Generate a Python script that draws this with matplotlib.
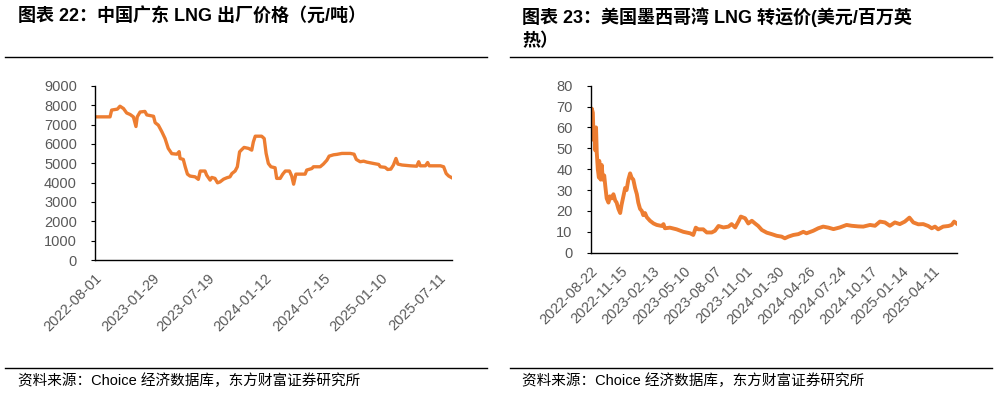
import numpy as np
import pandas as pd
import matplotlib
matplotlib.use("Agg")
import matplotlib.pyplot as plt

plt.rcParams['font.family'] = ['Liberation Sans', 'Noto Sans CJK SC', 'DejaVu Sans']

# 中国广东 LNG 出厂价格 (元/吨)
gd_dates = ["2022-08-01", "2022-09-17", "2022-09-22", "2022-10-10", "2022-10-18", "2022-10-29",
            "2022-11-08", "2022-11-19", "2022-11-29", "2022-12-07", "2022-12-11", "2022-12-20",
            "2023-01-04", "2023-01-10", "2023-01-31", "2023-02-05", "2023-02-15", "2023-02-26",
            "2023-03-08", "2023-03-18", "2023-03-29", "2023-04-14", "2023-04-21", "2023-04-24",
            "2023-05-04", "2023-05-10", "2023-05-17", "2023-05-25", "2023-06-10", "2023-06-20",
            "2023-06-26", "2023-07-11", "2023-07-16", "2023-07-27", "2023-08-01", "2023-08-11",
            "2023-08-19", "2023-08-27", "2023-09-07", "2023-09-17", "2023-09-27", "2023-10-03",
            "2023-10-13", "2023-10-20", "2023-10-27", "2023-11-03", "2023-11-10", "2023-11-24",
            "2023-12-04", "2023-12-09", "2023-12-15", "2024-01-04", "2024-01-12", "2024-01-18",
            "2024-01-25", "2024-02-02", "2024-02-15", "2024-02-20", "2024-03-02", "2024-03-10",
            "2024-03-18", "2024-03-31", "2024-04-07", "2024-04-13", "2024-04-20", "2024-05-19",
            "2024-05-24", "2024-06-09", "2024-06-14", "2024-07-05", "2024-07-15", "2024-07-26",
            "2024-08-02", "2024-08-16", "2024-08-26", "2024-09-11", "2024-10-07", "2024-10-19",
            "2024-10-26", "2024-11-07", "2024-11-18", "2024-11-28", "2024-12-19", "2025-01-04",
            "2025-01-09", "2025-01-24", "2025-02-01", "2025-02-11", "2025-02-19", "2025-02-27",
            "2025-03-05", "2025-03-18", "2025-04-13", "2025-05-03", "2025-05-09", "2025-05-14",
            "2025-05-30", "2025-06-06", "2025-06-11", "2025-07-16", "2025-07-26", "2025-08-03",
            "2025-08-11", "2025-08-21"]
gd_price = [7400, 7400, 7750, 7800, 7950, 7830,
            7600, 7520, 7400, 6900, 7400, 7650,
            7680, 7500, 7430, 7100, 6970, 6630,
            6280, 5770, 5500, 5470, 5600, 5250,
            5200, 4820, 4440, 4340, 4300, 4170,
            4600, 4600, 4390, 4130, 4270, 4220,
            3990, 4040, 4180, 4250, 4300, 4470,
            4600, 4820, 5590, 5710, 5820, 5770,
            5680, 6100, 6400, 6400, 6280, 5510,
            4990, 4820, 4770, 4220, 4220, 4440,
            4600, 4600, 4340, 3920, 4440, 4440,
            4650, 4730, 4820, 4820, 4960, 5160,
            5370, 5440, 5460, 5510, 5510, 5470,
            5200, 5080, 5110, 5060, 4990, 4940,
            4820, 4790, 4680, 4700, 4910, 5250,
            4960, 4910, 4870, 4850, 5080, 4870,
            4870, 5040, 4870, 4870, 4820, 4470,
            4340, 4250]
gd_ticks = ["2022-08-01", "2023-01-29", "2023-07-19", "2024-01-12", "2024-07-15", "2025-01-10", "2025-07-11"]

# 美国墨西哥湾 LNG 转运价 (美元/百万英热)
us_dates = ["2022-08-22", "2022-08-25", "2022-08-28", "2022-08-30", "2022-09-01", "2022-09-04",
            "2022-09-06", "2022-09-08", "2022-09-11", "2022-09-14", "2022-09-15", "2022-09-19",
            "2022-09-22", "2022-09-25", "2022-09-29", "2022-10-02", "2022-10-06", "2022-10-11",
            "2022-10-15", "2022-10-20", "2022-10-25", "2022-10-30", "2022-11-03", "2022-11-08",
            "2022-11-13", "2022-11-17", "2022-11-22", "2022-11-27", "2022-12-01", "2022-12-06",
            "2022-12-11", "2022-12-15", "2022-12-20", "2022-12-25", "2022-12-30", "2023-01-03",
            "2023-01-08", "2023-01-13", "2023-01-17", "2023-01-22", "2023-01-27", "2023-02-05",
            "2023-02-15", "2023-02-24", "2023-03-10", "2023-03-15", "2023-03-19", "2023-04-02",
            "2023-04-21", "2023-05-10", "2023-05-29", "2023-06-07", "2023-06-14", "2023-06-21",
            "2023-07-05", "2023-07-15", "2023-07-29", "2023-08-07", "2023-08-17", "2023-08-31",
            "2023-09-14", "2023-09-23", "2023-10-03", "2023-10-12", "2023-10-19", "2023-10-31",
            "2023-11-09", "2023-11-19", "2023-11-28", "2023-12-07", "2023-12-17", "2023-12-31",
            "2024-01-14", "2024-01-28", "2024-02-11", "2024-02-20", "2024-03-01", "2024-03-15",
            "2024-03-29", "2024-04-12", "2024-04-21", "2024-05-10", "2024-05-24", "2024-06-07",
            "2024-06-22", "2024-07-06", "2024-07-24", "2024-08-12", "2024-08-26", "2024-09-14",
            "2024-09-28", "2024-10-17", "2024-10-31", "2024-11-14", "2024-11-28", "2024-12-12",
            "2024-12-26", "2025-01-09", "2025-01-23", "2025-02-05", "2025-02-16", "2025-03-02",
            "2025-03-16", "2025-03-30", "2025-04-09", "2025-04-18", "2025-04-27", "2025-05-11",
            "2025-05-26", "2025-06-04", "2025-06-11", "2025-06-18"]
us_price = [55, 69, 67, 54, 60, 49,
            60, 48, 40, 36, 44, 35,
            42, 35, 37, 32, 26, 24,
            27, 26, 28, 25, 24, 21,
            19, 23, 27, 31, 30, 35,
            38, 36, 35, 31, 28, 24,
            21, 20, 18, 19, 17, 15.3,
            14, 13.3, 12.8, 13.7, 11.7, 12,
            11.2, 10, 9.3, 8.5, 12, 11.2,
            11.2, 9.7, 9.7, 10.5, 12.8, 12.1,
            12.5, 13.7, 12.1, 14.9, 17.3, 16.5,
            14, 15.3, 14, 12.8, 10.9, 9.6,
            8.9, 8.1, 7.7, 6.9, 7.7, 8.5,
            8.9, 10, 9.3, 10.5, 11.7, 12.5,
            12, 11.3, 12.1, 13.3, 12.9, 12.6,
            12.5, 13.3, 12.9, 14.9, 14.5, 12.9,
            14.5, 13.7, 14.9, 16.8, 14.5, 13.6,
            13.7, 12.8, 11.7, 12.5, 11.2, 12.5,
            12.8, 13.3, 14.9, 14]
us_ticks = ["2022-08-22", "2022-11-15", "2023-02-13", "2023-05-10", "2023-08-07", "2023-11-01",
            "2024-01-30", "2024-04-26", "2024-07-24", "2024-10-17", "2025-01-14", "2025-04-11"]

ORANGE = "#ED7D31"
GRAY = "#595959"

fig = plt.figure(figsize=(9.97, 3.94), dpi=100)


def style_axis(ax, dates, vals, ticks, ymax, ystep, lw):
    ax.plot(pd.to_datetime(dates), vals, color=ORANGE, lw=lw, solid_joinstyle='round')
    ax.set_xlim(pd.to_datetime(dates[0]), pd.to_datetime(dates[-1]))
    ax.set_ylim(0, ymax)
    ax.set_yticks(np.arange(0, ymax + 1, ystep))
    ax.set_xticks(pd.to_datetime(ticks))
    ax.set_xticklabels(ticks, rotation=45, ha='right', va='top', rotation_mode='anchor')
    for s in ['top', 'right']:
        ax.spines[s].set_visible(False)
    for s in ['left', 'bottom']:
        ax.spines[s].set_color('black')
        ax.spines[s].set_linewidth(1.0)
    ax.tick_params(axis='y', labelsize=10.5, colors=GRAY, length=3, color='black', pad=10)
    ax.tick_params(axis='x', labelsize=10.5, colors=GRAY, length=0, pad=8)


ax1 = fig.add_axes([0.0953, 0.340, 0.358, 0.442])
style_axis(ax1, gd_dates, gd_price, gd_ticks, 9000, 1000, 2.4)

ax2 = fig.add_axes([0.5925, 0.3586, 0.367, 0.424])
style_axis(ax2, us_dates, us_price, us_ticks, 80, 10, 2.8)

# titles
fig.text(18 / 997, 1 - 17 / 394, "图表 22：中国广东 LNG 出厂价格（元/吨）", fontsize=13,
         fontweight='bold', va='center', ha='left')
fig.text(522 / 997, 1 - 17 / 394, "图表 23：美国墨西哥湾 LNG 转运价(美元/百万英", fontsize=13,
         fontweight='bold', va='center', ha='left')
fig.text(522 / 997, 1 - 42 / 394, "热）", fontsize=13,
         fontweight='bold', va='center', ha='left')

# separator lines
for x0, x1 in [(5, 487), (510, 992)]:
    for y in [57, 368]:
        fig.add_artist(plt.Line2D([x0 / 997, x1 / 997], [1 - y / 394, 1 - y / 394],
                                  color='black', lw=1.0))

# sources
for x in [18, 522]:
    fig.text(x / 997, 1 - 381 / 394, "资料来源：Choice 经济数据库，东方财富证券研究所", fontsize=10.5,
             va='center', ha='left')

fig.savefig("out.png", dpi=100)
